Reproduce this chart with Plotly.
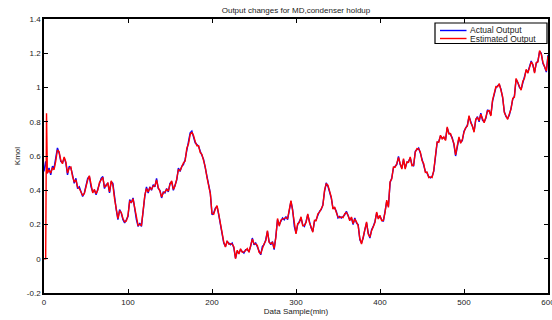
import plotly.graph_objects as go

# Actual output (Kmol), one value every 2 samples from 0 to 600
actual = [
    # 0 - 148
    0.51, 0.569, 0.50, 0.53, 0.49, 0.54, 0.53, 0.58, 0.647, 0.618,
    0.569, 0.56, 0.589, 0.56, 0.49, 0.54, 0.53, 0.49, 0.44, 0.47,
    0.41, 0.42, 0.384, 0.364, 0.384, 0.42, 0.47, 0.48, 0.42, 0.39,
    0.40, 0.374, 0.41, 0.44, 0.47, 0.48, 0.41, 0.433, 0.44, 0.384,
    0.45, 0.44, 0.345, 0.287, 0.228, 0.287, 0.267, 0.228, 0.209, 0.228,
    0.247, 0.345, 0.326, 0.355, 0.287, 0.228, 0.189, 0.209, 0.189, 0.287,
    0.364, 0.42, 0.384, 0.42, 0.40, 0.433, 0.42, 0.47, 0.41, 0.40,
    0.355, 0.39, 0.384, 0.41, 0.39,
    # 150 - 262
    0.44, 0.45, 0.40, 0.43, 0.46, 0.53, 0.51, 0.54, 0.55, 0.58,
    0.64, 0.677, 0.735, 0.745, 0.715, 0.677, 0.667, 0.657, 0.628, 0.608,
    0.58, 0.53, 0.48, 0.43, 0.384, 0.257, 0.267, 0.296, 0.306, 0.257,
    0.209, 0.15, 0.092, 0.072, 0.10, 0.092, 0.082, 0.092, 0.063, 0.004,
    0.043, 0.033, 0.053, 0.043, 0.033, 0.053, 0.053, 0.043, 0.072, 0.121,
    0.082, 0.092, 0.072, 0.043, 0.023, 0.072, 0.082,
    # 264 - 368
    0.111, 0.16, 0.10, 0.082, 0.10, 0.053, 0.13, 0.228, 0.199, 0.218,
    0.238, 0.228, 0.247, 0.228, 0.296, 0.335, 0.287, 0.189, 0.15, 0.199,
    0.218, 0.238, 0.199, 0.189, 0.218, 0.257, 0.218, 0.18, 0.16, 0.218,
    0.228, 0.257, 0.277, 0.287, 0.316, 0.394, 0.443, 0.423, 0.394, 0.355,
    0.296, 0.296, 0.277, 0.238, 0.247, 0.238, 0.247, 0.257, 0.277, 0.247,
    0.228, 0.238, 0.199,
    # 370 - 488
    0.238, 0.209, 0.199, 0.111, 0.092, 0.121, 0.17, 0.209, 0.15, 0.121,
    0.17, 0.189, 0.218, 0.267, 0.238, 0.247, 0.228, 0.218, 0.277, 0.335,
    0.306, 0.443, 0.472, 0.53, 0.54, 0.55, 0.598, 0.55, 0.53, 0.579,
    0.53, 0.56, 0.569, 0.589, 0.55, 0.54, 0.628, 0.637, 0.647, 0.618,
    0.579, 0.55, 0.51, 0.50, 0.48, 0.472, 0.48, 0.51, 0.598, 0.677,
    0.686, 0.715, 0.706, 0.706, 0.696, 0.764, 0.735, 0.725, 0.706, 0.667,
    # 490 - 600
    0.60, 0.667, 0.705, 0.68, 0.69, 0.745, 0.76, 0.78, 0.83, 0.80,
    0.77, 0.745, 0.81, 0.83, 0.80, 0.85, 0.81, 0.80, 0.82, 0.87,
    0.86, 0.84, 0.92, 0.97, 1.0, 1.01, 1.017, 0.99, 0.94, 0.86,
    0.83, 0.82, 0.84, 0.88, 0.93, 0.95, 1.047, 1.03, 1.0, 0.99,
    1.03, 1.06, 1.10, 1.09, 1.12, 1.155, 1.13, 1.09, 1.14, 1.155,
    1.21, 1.20, 1.14, 1.12, 1.09, 1.19,
]
actual_sample = [2 * i for i in range(len(actual))]

# Estimated output (Kmol): starts at 0 with a start-up spike, then tracks
estimated = [
    # 0 - 4 (start-up)
    0.0, 0.0, 0.85, 0.50,
    # 6 - 148
    0.52, 0.50, 0.53, 0.52, 0.57, 0.635, 0.625,
    0.575, 0.555, 0.595, 0.565, 0.50, 0.53, 0.535, 0.48, 0.45, 0.46,
    0.42, 0.41, 0.39, 0.37, 0.38, 0.425, 0.46, 0.485, 0.43, 0.385,
    0.405, 0.38, 0.40, 0.445, 0.46, 0.475, 0.42, 0.425, 0.445, 0.39,
    0.455, 0.43, 0.35, 0.295, 0.235, 0.28, 0.27, 0.235, 0.215, 0.22,
    0.255, 0.335, 0.33, 0.35, 0.295, 0.235, 0.195, 0.20, 0.195, 0.28,
    0.37, 0.41, 0.39, 0.415, 0.405, 0.425, 0.425, 0.46, 0.415, 0.395,
    0.36, 0.385, 0.39, 0.405, 0.395,
    # 150 - 262
    0.435, 0.455, 0.405, 0.425, 0.465, 0.52, 0.515, 0.535, 0.56, 0.57,
    0.645, 0.67, 0.725, 0.74, 0.72, 0.685, 0.66, 0.66, 0.62, 0.61,
    0.575, 0.535, 0.475, 0.435, 0.38, 0.265, 0.26, 0.29, 0.31, 0.26,
    0.205, 0.155, 0.098, 0.068, 0.105, 0.085, 0.088, 0.085, 0.07, 0.0,
    0.05, 0.028, 0.058, 0.038, 0.04, 0.048, 0.06, 0.038, 0.078, 0.115,
    0.088, 0.086, 0.078, 0.038, 0.03, 0.066, 0.088,
    # 264 - 368
    0.105, 0.165, 0.095, 0.088, 0.095, 0.06, 0.125, 0.235, 0.19, 0.225,
    0.232, 0.235, 0.24, 0.235, 0.29, 0.34, 0.28, 0.195, 0.145, 0.205,
    0.212, 0.245, 0.193, 0.195, 0.212, 0.262, 0.212, 0.186, 0.155, 0.224,
    0.222, 0.262, 0.272, 0.292, 0.31, 0.40, 0.437, 0.43, 0.388, 0.36,
    0.29, 0.302, 0.27, 0.245, 0.24, 0.244, 0.24, 0.263, 0.27, 0.253,
    0.222, 0.244, 0.205,
    # 370 - 488
    0.232, 0.215, 0.193, 0.118, 0.086, 0.127, 0.164, 0.215, 0.144, 0.127,
    0.164, 0.195, 0.212, 0.273, 0.232, 0.253, 0.222, 0.224, 0.27, 0.342,
    0.30, 0.45, 0.466, 0.536, 0.534, 0.556, 0.592, 0.556, 0.524, 0.585,
    0.524, 0.566, 0.563, 0.595, 0.544, 0.546, 0.622, 0.643, 0.641, 0.624,
    0.573, 0.556, 0.504, 0.506, 0.474, 0.478, 0.474, 0.516, 0.592, 0.683,
    0.68, 0.721, 0.70, 0.712, 0.69, 0.77, 0.729, 0.731, 0.70, 0.673,
    # 490 - 600
    0.606, 0.661, 0.711, 0.674, 0.696, 0.739, 0.766, 0.774, 0.836, 0.794,
    0.776, 0.739, 0.816, 0.824, 0.806, 0.844, 0.816, 0.794, 0.826, 0.864,
    0.866, 0.834, 0.926, 0.964, 1.006, 1.004, 1.023, 0.984, 0.946, 0.854,
    0.836, 0.814, 0.846, 0.874, 0.936, 0.944, 1.053, 1.024, 1.006, 0.984,
    1.036, 1.054, 1.106, 1.084, 1.126, 1.149, 1.136, 1.084, 1.146, 1.149,
    1.216, 1.194, 1.146, 1.114, 1.096, 1.184,
]
estimated_sample = [0, 2, 3, 4] + [2 * i for i in range(3, len(estimated) - 1)]

series_names = ["Actual Output", "Estimated Output"]
series_colors = ["#0000FF", "#FF0000"]

title_text = "Output changes for MD,condenser holdup"
x_label = "Data Sample(min)"
y_label = "Kmol"
x_ticks = [0, 100, 200, 300, 400, 500, 600]
y_ticks = [-0.2, 0, 0.2, 0.4, 0.6, 0.8, 1, 1.2, 1.4]
y_tick_text = ["-0.2", "0", "0.2", "0.4", "0.6", "0.8", "1", "1.2", "1.4"]

FONT = "Liberation Sans, Arial, Helvetica, sans-serif"
TXT = "#222222"

# Figure geometry (pixels)
W, H = 552, 320
L, R, T, B = 44, 4, 19, 27
PW, PH = W - L - R, H - T - B


def px_x(px):
    return (px - L) / PW


def px_y(py):
    return (H - B - py) / PH


fig = go.Figure()
for xs, ys, name, color in [
    (actual_sample, actual, series_names[0], series_colors[0]),
    (estimated_sample, estimated, series_names[1], series_colors[1]),
]:
    fig.add_trace(go.Scatter(
        x=xs, y=ys, mode="lines", name=name,
        line=dict(color=color, width=1.4), showlegend=False,
    ))

# MATLAB-style legend box drawn in paper coordinates
shapes = [dict(type="rect", xref="paper", yref="paper",
               x0=px_x(435), x1=px_x(547), y0=px_y(43.5), y1=px_y(23),
               line=dict(color="black", width=1.2), fillcolor="white",
               layer="above")]
annotations = []
for i, (name, color) in enumerate(zip(series_names, series_colors)):
    yy = px_y(30.5 + 8 * i)
    shapes.append(dict(type="line", xref="paper", yref="paper",
                       x0=px_x(440), x1=px_x(466.5), y0=yy, y1=yy,
                       line=dict(color=color, width=1.4), layer="above"))
    annotations.append(dict(text=name, xref="paper", yref="paper",
                            x=px_x(467.5), y=yy, xanchor="left",
                            yanchor="middle", showarrow=False,
                            font=dict(family=FONT, size=8.5, color=TXT)))

fig.update_layout(
    width=W, height=H,
    margin=dict(l=L, r=R, t=T, b=B),
    paper_bgcolor="white", plot_bgcolor="white",
    font=dict(family=FONT, size=8, color=TXT),
    title=dict(text=title_text, x=(L + W - R) / 2 / W, xanchor="center",
               y=1 - 10 / H, yanchor="middle",
               font=dict(family=FONT, size=8, color=TXT)),
    showlegend=False,
    shapes=shapes,
    annotations=annotations,
)
fig.update_xaxes(
    range=[0, 600], tickvals=x_ticks, ticks="inside", ticklen=4,
    tickcolor="black", showline=True, linecolor="black", linewidth=2,
    mirror="ticks", showgrid=False, zeroline=False, automargin=False,
    ticklabeloverflow="allow",
    title=dict(text=x_label, standoff=2, font=dict(size=8)),
    tickfont=dict(size=8),
)
fig.update_yaxes(
    range=[-0.2, 1.4], tickvals=y_ticks, ticktext=y_tick_text,
    ticks="inside", ticklen=4, tickcolor="black", showline=True,
    linecolor="black", linewidth=1.5, mirror="ticks", showgrid=False,
    zeroline=False, automargin=False, ticklabeloverflow="allow",
    title=dict(text=y_label, standoff=5, font=dict(size=8)),
    tickfont=dict(size=8),
)

fig.write_html("out.html",
               config={"displayModeBar": False},
               post_script="document.body.style.margin='0';"
                           "document.body.style.padding='0';")
